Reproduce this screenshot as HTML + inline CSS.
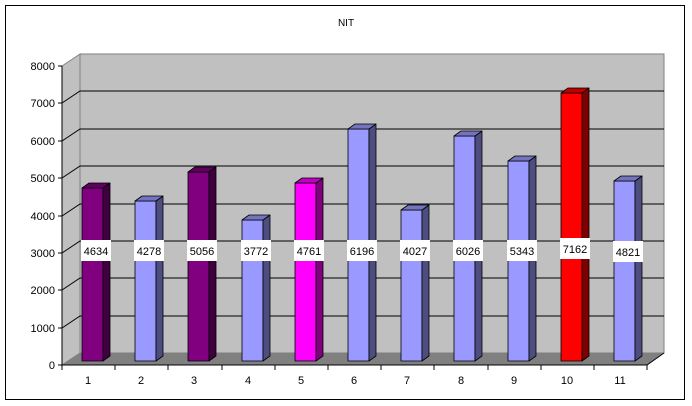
<!DOCTYPE html>
<html><head><meta charset="utf-8"><style>
html,body{margin:0;padding:0;background:#fff;}
svg{display:block;font-family:"Liberation Sans",Arial,sans-serif;}
</style></head><body>
<svg width="692" height="406" viewBox="0 0 692 406" xmlns="http://www.w3.org/2000/svg">
<rect x="5.5" y="5.5" width="679" height="394" fill="#fff" stroke="#000" stroke-width="1"/>
<text x="346" y="26" font-size="10" text-anchor="middle">NIT</text>
<polygon points="62,66 80,54 80,353 62,365" fill="#c0c0c0" stroke="#808080"/>
<rect x="80" y="54" width="584" height="299" fill="#c0c0c0" stroke="#808080"/>
<polygon points="62,365 80,353 664,353 647,365" fill="#808080"/>
<g stroke="#000" stroke-width="1" fill="none">
<path d="M62,328 L80,316 L664,316 M62,290 L80,278 L664,278 M62,253 L80,241 L664,241 M62,216 L80,204 L664,204 M62,178 L80,166 L664,166 M62,141 L80,129 L664,129 M62,103 L80,91 L664,91"/>
<path d="M62,66 L62,365 L647,365 L664,353"/>
<path d="M58,66H62M58,103H62M58,141H62M58,178H62M58,216H62M58,253H62M58,290H62M58,328H62M58,365H62"/>
<path d="M62,365V370M115,365V370M168,365V370M222,365V370M275,365V370M328,365V370M381,365V370M434,365V370M488,365V370M541,365V370M594,365V370M647,365V370"/>
</g>
<g font-size="11" text-anchor="end">
<text x="55" y="70">8000</text><text x="55" y="107">7000</text><text x="55" y="145">6000</text><text x="55" y="182">5000</text><text x="55" y="220">4000</text><text x="55" y="257">3000</text><text x="55" y="294">2000</text><text x="55" y="332">1000</text><text x="55" y="369">0</text>
</g>
<g font-size="11" text-anchor="middle" fill="#000">
<text x="88" y="384">1</text><text x="141" y="384">2</text><text x="194" y="384">3</text><text x="248" y="384">4</text><text x="301" y="384">5</text><text x="354" y="384">6</text><text x="407" y="384">7</text><text x="461" y="384">8</text><text x="514" y="384">9</text><text x="567" y="384">10</text><text x="620" y="384">11</text>
</g>
<g stroke="#000" stroke-width="0.8" stroke-linejoin="round">
<g transform="translate(82,0)"><rect x="0" y="188" width="21" height="173" fill="#800080"/><polygon points="21,188 28,183 28,356 21,361" fill="#400040"/><polygon points="0,188 7,183 28,183 21,188" fill="#600060"/></g>
<g transform="translate(135,0)"><rect x="0" y="201" width="21" height="160" fill="#9999ff"/><polygon points="21,201 28,196 28,356 21,361" fill="#4d4d80"/><polygon points="0,201 7,196 28,196 21,201" fill="#7373bf"/></g>
<g transform="translate(188,0)"><rect x="0" y="172" width="21" height="189" fill="#800080"/><polygon points="21,172 28,167 28,356 21,361" fill="#400040"/><polygon points="0,172 7,167 28,167 21,172" fill="#600060"/></g>
<g transform="translate(242,0)"><rect x="0" y="220" width="21" height="141" fill="#9999ff"/><polygon points="21,220 28,215 28,356 21,361" fill="#4d4d80"/><polygon points="0,220 7,215 28,215 21,220" fill="#7373bf"/></g>
<g transform="translate(295,0)"><rect x="0" y="183" width="21" height="178" fill="#ff00ff"/><polygon points="21,183 28,178 28,356 21,361" fill="#800080"/><polygon points="0,183 7,178 28,178 21,183" fill="#c000c0"/></g>
<g transform="translate(348,0)"><rect x="0" y="129" width="21" height="232" fill="#9999ff"/><polygon points="21,129 28,124 28,356 21,361" fill="#4d4d80"/><polygon points="0,129 7,124 28,124 21,129" fill="#7373bf"/></g>
<g transform="translate(401,0)"><rect x="0" y="210" width="21" height="151" fill="#9999ff"/><polygon points="21,210 28,205 28,356 21,361" fill="#4d4d80"/><polygon points="0,210 7,205 28,205 21,210" fill="#7373bf"/></g>
<g transform="translate(454,0)"><rect x="0" y="136" width="21" height="225" fill="#9999ff"/><polygon points="21,136 28,131 28,356 21,361" fill="#4d4d80"/><polygon points="0,136 7,131 28,131 21,136" fill="#7373bf"/></g>
<g transform="translate(508,0)"><rect x="0" y="161" width="21" height="200" fill="#9999ff"/><polygon points="21,161 28,156 28,356 21,361" fill="#4d4d80"/><polygon points="0,161 7,156 28,156 21,161" fill="#7373bf"/></g>
<g transform="translate(561,0)"><rect x="0" y="93" width="21" height="268" fill="#ff0000"/><polygon points="21,93 28,88 28,356 21,361" fill="#800000"/><polygon points="0,93 7,88 28,88 21,93" fill="#c00000"/></g>
<g transform="translate(614,0)"><rect x="0" y="181" width="21" height="180" fill="#9999ff"/><polygon points="21,181 28,176 28,356 21,361" fill="#4d4d80"/><polygon points="0,181 7,176 28,176 21,181" fill="#7373bf"/></g>
</g>
<g fill="#fff">
<rect x="81" y="240" width="30" height="21"/><rect x="134" y="240" width="30" height="21"/><rect x="187" y="240" width="30" height="21"/><rect x="241" y="240" width="30" height="21"/><rect x="294" y="240" width="30" height="21"/><rect x="347" y="240" width="30" height="21"/><rect x="400" y="240" width="30" height="21"/><rect x="453" y="240" width="30" height="21"/><rect x="507" y="240" width="30" height="21"/><rect x="560" y="238" width="30" height="21"/><rect x="613" y="241" width="30" height="21"/>
</g>
<g font-size="11" text-anchor="middle" fill="#000">
<text x="96" y="255">4634</text><text x="149" y="255">4278</text><text x="202" y="255">5056</text><text x="256" y="255">3772</text><text x="309" y="255">4761</text><text x="362" y="255">6196</text><text x="415" y="255">4027</text><text x="468" y="255">6026</text><text x="522" y="255">5343</text><text x="575" y="253">7162</text><text x="628" y="256">4821</text>
</g>
</svg>
</body></html>
